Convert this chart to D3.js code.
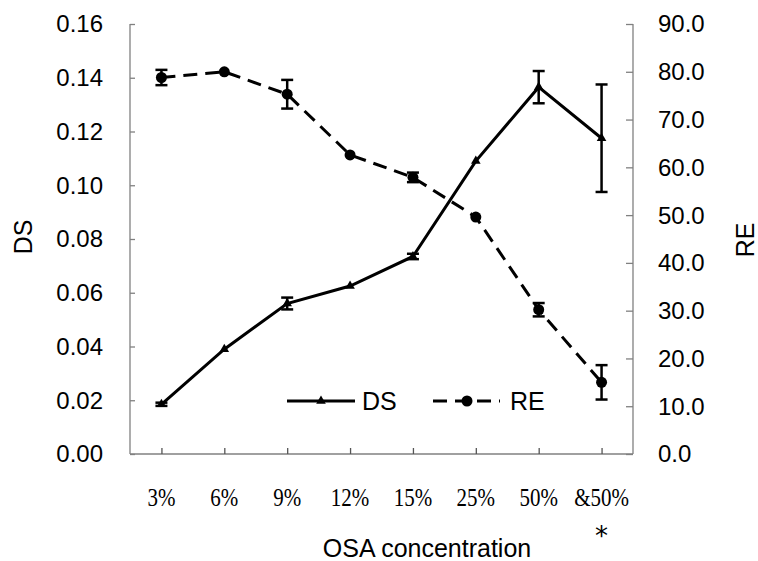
<!DOCTYPE html>
<html>
<head>
<meta charset="utf-8">
<script src="https://cdn.jsdelivr.net/npm/d3@7/dist/d3.min.js"></script>
<style>
  html, body { margin: 0; padding: 0; background: #fff; }
  svg { display: block; }
</style>
</head>
<body>
<svg id="chart" width="758" height="561"></svg>
<script>
// OSA concentration levels (x categories)
const categories = ["3%", "6%", "9%", "12%", "15%", "25%", "50%", "&50%"];

// Degree of substitution (left axis) with standard deviations
const dsValues = [0.0185, 0.0390, 0.0560, 0.0625, 0.0735, 0.1090, 0.1365, 0.1175];
const dsErrors = [0.0006, 0, 0.0022, 0, 0.0010, 0, 0.0060, 0.0200];

// Reaction efficiency (right axis) with standard deviations
const reValues = [78.8, 80.0, 75.3, 62.6, 57.9, 49.6, 30.2, 15.0];
const reErrors = [1.6, 0, 3.0, 0, 1.0, 0, 1.4, 3.6];

// Tick labels
const dsTicks = [0, 0.02, 0.04, 0.06, 0.08, 0.10, 0.12, 0.14, 0.16];
const reTicks = [0, 10, 20, 30, 40, 50, 60, 70, 80, 90];

const svg = d3.select("#chart");
const plotLeft = 130, plotRight = 633, plotTop = 24, plotBottom = 454;

const x = d3.scalePoint().domain(categories).range([plotLeft, plotRight]).padding(0.5);
const yL = d3.scaleLinear().domain([0, 0.16]).range([plotBottom, plotTop]);
const yR = d3.scaleLinear().domain([0, 90]).range([plotBottom, plotTop]);

const axisColor = "#808080";
const sans = "Liberation Sans, Arial, sans-serif";
const serif = "Liberation Serif, Times New Roman, serif";

// Axes (ticks point into the plot)
const gL = svg.append("g").attr("transform", `translate(${plotLeft},0)`)
  .call(d3.axisRight(yL).tickValues(dsTicks).tickSize(5).tickFormat(""));
const gR = svg.append("g").attr("transform", `translate(${plotRight},0)`)
  .call(d3.axisLeft(yR).tickValues(reTicks).tickSize(7).tickFormat(""));
const gB = svg.append("g").attr("transform", `translate(0,${plotBottom})`)
  .call(d3.axisTop(x).tickSize(6).tickFormat(""));
[gL, gR, gB].forEach(g => {
  g.selectAll("path.domain").attr("stroke", axisColor).attr("stroke-width", 1.3);
  g.selectAll(".tick line").attr("stroke", axisColor).attr("stroke-width", 1.3);
});
// plain axis lines without outer ticks
gL.select("path.domain").attr("d", `M0,${plotTop}V${plotBottom}`);
gR.select("path.domain").attr("d", `M0,${plotTop}V${plotBottom}`);
gB.select("path.domain").attr("d", `M${plotLeft},0H${plotRight}`);
gB.selectAll(".tick line").attr("stroke", "#555");

// Tick labels
svg.append("g").selectAll("text").data(dsTicks).join("text")
  .attr("x", 103).attr("y", d => yL(d)).attr("dy", "0.35em")
  .attr("text-anchor", "end").attr("font-family", sans).attr("font-size", 24)
  .text(d => d3.format(".2f")(d));
svg.append("g").selectAll("text").data(reTicks).join("text")
  .attr("x", 658).attr("y", d => yR(d)).attr("dy", "0.35em")
  .attr("text-anchor", "start").attr("font-family", sans).attr("font-size", 24)
  .text(d => d3.format(".1f")(d));
// category labels: narrow, tall serif glyphs
svg.append("g").selectAll("text").data(categories).join("text")
  .attr("transform", d => `translate(${x(d)},506) scale(1,1.22)`)
  .attr("text-anchor", "middle").attr("font-family", serif).attr("font-size", 21)
  .text(d => d);
svg.append("text").attr("x", x("&50%")).attr("y", 545)
  .attr("text-anchor", "middle").attr("font-family", "DejaVu Sans, sans-serif")
  .attr("font-size", 26).attr("fill", "#000")
  .text("*");

// Axis titles
svg.append("text").attr("x", 427).attr("y", 557)
  .attr("text-anchor", "middle").attr("font-family", sans).attr("font-size", 25)
  .text("OSA concentration");
svg.append("text").attr("transform", "translate(32,237) rotate(-90)")
  .attr("text-anchor", "middle").attr("font-family", sans).attr("font-size", 25)
  .text("DS");
svg.append("text").attr("transform", "translate(754,240) rotate(-90)")
  .attr("text-anchor", "middle").attr("font-family", sans).attr("font-size", 25)
  .text("RE");

// Error bars
function errorBars(vals, errs, y) {
  const g = svg.append("g").attr("stroke", "#000").attr("stroke-width", 2.5).attr("fill", "none");
  vals.forEach((v, i) => {
    if (!errs[i]) return;
    const cx = x(categories[i]);
    const y1 = y(v + errs[i]), y2 = y(v - errs[i]);
    g.append("line").attr("x1", cx).attr("x2", cx).attr("y1", y1).attr("y2", y2);
    g.append("line").attr("x1", cx - 6).attr("x2", cx + 6).attr("y1", y1).attr("y2", y1);
    g.append("line").attr("x1", cx - 6).attr("x2", cx + 6).attr("y1", y2).attr("y2", y2);
  });
}
errorBars(dsValues, dsErrors, yL);
errorBars(reValues, reErrors, yR);

// Lines
const lineL = d3.line().x((d, i) => x(categories[i])).y(d => yL(d));
const lineR = d3.line().x((d, i) => x(categories[i])).y(d => yR(d));
svg.append("path").datum(dsValues).attr("d", lineL)
  .attr("fill", "none").attr("stroke", "#000").attr("stroke-width", 3);
svg.append("path").datum(reValues).attr("d", lineR)
  .attr("fill", "none").attr("stroke", "#000").attr("stroke-width", 3)
  .attr("stroke-dasharray", "14,8");

// Markers
const tri = d3.symbol().type(d3.symbolTriangle).size(40);
svg.append("g").selectAll("path").data(dsValues).join("path")
  .attr("d", tri).attr("fill", "#000")
  .attr("transform", (d, i) => `translate(${x(categories[i])},${yL(d)})`);
svg.append("g").selectAll("circle").data(reValues).join("circle")
  .attr("cx", (d, i) => x(categories[i])).attr("cy", d => yR(d)).attr("r", 5.5)
  .attr("fill", "#000");

// Legend
const lg = svg.append("g");
lg.append("line").attr("x1", 287).attr("x2", 355).attr("y1", 401).attr("y2", 401)
  .attr("stroke", "#000").attr("stroke-width", 3);
lg.append("path").attr("d", tri).attr("transform", "translate(321,401)").attr("fill", "#000");
lg.append("text").attr("x", 362).attr("y", 401).attr("dy", "0.35em")
  .attr("font-family", sans).attr("font-size", 25).text("DS");
lg.append("line").attr("x1", 433).attr("x2", 500).attr("y1", 401).attr("y2", 401)
  .attr("stroke", "#000").attr("stroke-width", 3).attr("stroke-dasharray", "14,8");
lg.append("circle").attr("cx", 467).attr("cy", 401).attr("r", 5.5).attr("fill", "#000");
lg.append("text").attr("x", 510).attr("y", 401).attr("dy", "0.35em")
  .attr("font-family", sans).attr("font-size", 25).text("RE");
</script>
</body>
</html>
